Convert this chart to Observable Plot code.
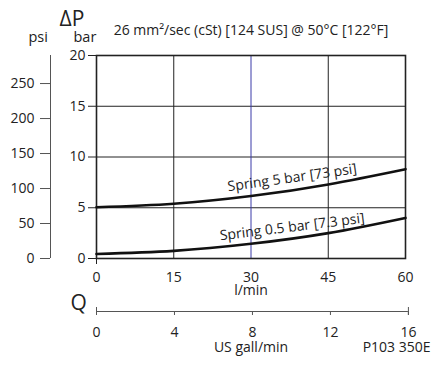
<!DOCTYPE html>
<html><head><meta charset="utf-8">
<script src="https://cdn.jsdelivr.net/npm/d3@7"></script>
<script src="https://cdn.jsdelivr.net/npm/@observablehq/plot@0.6"></script>
<style>
html,body{margin:0;padding:0;background:#fff;}
</style></head><body><div id="chart"></div>
<script>
// ---- data ----
const flow = [0, 15, 30, 45, 60];                 // l/min
const spring5 = [5.05, 5.4, 6.15, 7.3, 8.8];      // bar
const spring05 = [0.45, 0.75, 1.45, 2.5, 4.0];    // bar
const seriesNames = ["Spring 5 bar [73 psi]", "Spring 0.5 bar [7.3 psi]"];
const barTicks = [0, 5, 10, 15, 20];
const psiTicks = [0, 50, 100, 150, 200, 250];
const flowTicks = [0, 15, 30, 45, 60];
const galTicks = [0, 4, 8, 12, 16];
const titleText = "26 mm²/sec (cSt) [124 SUS] @ 50°C [122°F]";
const PSI_PER_BAR = 14.5038;
const L_PER_GAL = 3.78541;

const rows = flow.flatMap((q, i) => [
  {q, dp: spring5[i], s: seriesNames[0]},
  {q, dp: spring05[i], s: seriesNames[1]}
]);
const curveLabels = [
  {x: 38, y: 7.95, rotate: -8, text: seriesNames[0]},
  {x: 38, y: 3.1, rotate: -7, text: seriesNames[1]}
];

const font = "'Open Sans', sans-serif";
const ink = "#222";
const gray = "#555";
const galEnds = [galTicks[0] * L_PER_GAL, galTicks[galTicks.length - 1] * L_PER_GAL];

const chart = Plot.plot({
  width: 432, height: 365,
  marginLeft: 96, marginRight: 27, marginTop: 55, marginBottom: 107,
  style: {fontFamily: font, fontSize: "14px", color: ink, background: "#fff"},
  x: {domain: [0, 60]},
  y: {domain: [0, 20]},
  marks: [
    Plot.ruleY([5, 10, 15], {stroke: ink, strokeWidth: 1}),
    Plot.ruleX([15, 45], {stroke: ink, strokeWidth: 1}),
    Plot.ruleX([30], {stroke: "#3a3aa8", strokeWidth: 1}),
    Plot.frame({stroke: ink, strokeWidth: 1.6}),
    Plot.axisY(barTicks, {tickSize: 8, tickPadding: 3, label: null, stroke: ink}),
    Plot.axisY(psiTicks.map(p => p / PSI_PER_BAR), {
      tickFormat: d => Math.round(d * PSI_PER_BAR), tickSize: 10, tickPadding: 6,
      dx: -46, label: null, stroke: gray
    }),
    Plot.ruleX([0], {y1: 0, y2: 20, dx: -46, stroke: gray}),
    Plot.axisX(flowTicks, {tickSize: 0, tickPadding: 14, label: null}),
    Plot.axisX([flowTicks[0]], {tickSize: 6, tickFormat: () => "", label: null, stroke: ink}),
    Plot.axisX(galTicks.map(g => g * L_PER_GAL), {
      tickFormat: d => Math.round(d / L_PER_GAL), tickSize: 4, tickPadding: 12,
      dy: 53, label: null, stroke: gray
    }),
    Plot.axisX(galEnds, {tickSize: 8, tickFormat: () => "", dy: 49, label: null, stroke: gray}),
    Plot.ruleY([0], {x1: galEnds[0], x2: galEnds[1], dy: 53, stroke: gray}),
    Plot.line(rows, {x: "q", y: "dp", z: "s", curve: "natural", stroke: "#111", strokeWidth: 2.6}),
    Plot.text(curveLabels, {x: "x", y: "y", rotate: "rotate", text: "text", fontSize: 14, fill: ink}),
    Plot.text(["ΔP"], {frameAnchor: "top-left", dx: -37, dy: -44, fontSize: 21, fill: ink}),
    Plot.text(["psi"], {frameAnchor: "top-left", dx: -68, dy: -24, fontSize: 14.5, fill: ink}),
    Plot.text(["bar"], {frameAnchor: "top-left", dx: -23, dy: -24, fontSize: 14.5, fill: ink}),
    Plot.text([titleText], {frameAnchor: "top", dx: 0, dy: -30, fontSize: 14, fill: ink}),
    Plot.text(["l/min"], {frameAnchor: "bottom", dy: 36.5, fontSize: 14, fill: ink}),
    Plot.text(["Q"], {frameAnchor: "bottom-left", dx: -26, dy: 51, fontSize: 21, fill: ink}),
    Plot.text(["US gall/min"], {frameAnchor: "bottom", dy: 93.5, fontSize: 14, fill: ink}),
    Plot.text(["P103 350E"], {frameAnchor: "bottom-right", dx: 25, dy: 93.5, textAnchor: "end", fontSize: 14, fill: ink})
  ]
});
document.getElementById("chart").appendChild(chart);
</script></body></html>
